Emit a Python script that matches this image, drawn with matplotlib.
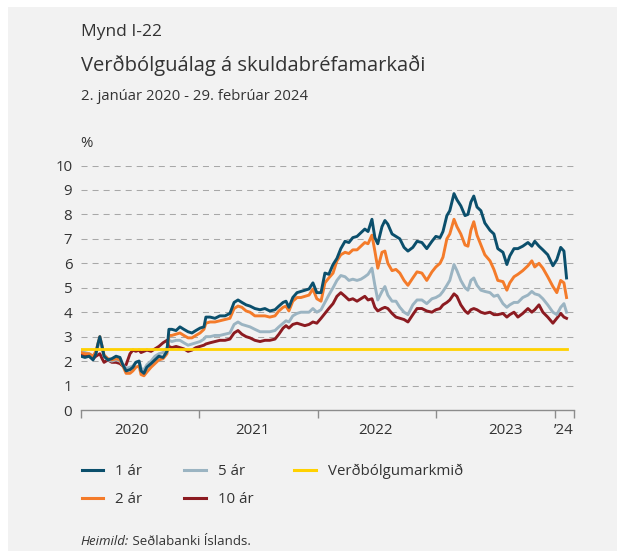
import pandas as pd
import matplotlib
matplotlib.use("Agg")
import matplotlib.pyplot as plt
import matplotlib.lines as mlines
from matplotlib.patches import Rectangle

plt.rcParams["font.family"] = ["Open Sans", "DejaVu Sans"]

# ── data (%, daily series thinned) ────────────────────────────────────────────
dates = [
    "2020-01-02", "2020-01-14", "2020-01-27", "2020-02-08", "2020-02-17", "2020-02-23",
    "2020-02-29", "2020-03-07", "2020-03-13", "2020-03-25", "2020-04-06", "2020-04-19",
    "2020-05-01", "2020-05-10", "2020-05-20", "2020-06-01", "2020-06-10", "2020-06-19",
    "2020-06-29", "2020-07-05", "2020-07-14", "2020-07-23", "2020-08-05", "2020-08-17",
    "2020-08-29", "2020-09-11", "2020-09-23", "2020-09-29", "2020-10-08", "2020-10-21",
    "2020-11-02", "2020-11-14", "2020-11-27", "2020-12-09", "2020-12-21", "2021-01-03",
    "2021-01-15", "2021-01-21", "2021-02-03", "2021-02-18", "2021-03-05", "2021-03-21",
    "2021-04-05", "2021-04-18", "2021-04-30", "2021-05-12", "2021-05-25", "2021-06-06",
    "2021-06-21", "2021-07-07", "2021-07-22", "2021-08-06", "2021-08-22", "2021-09-03",
    "2021-09-16", "2021-09-25", "2021-10-04", "2021-10-16", "2021-10-29", "2021-11-10",
    "2021-11-22", "2021-12-05", "2021-12-17", "2021-12-29", "2022-01-11", "2022-01-23",
    "2022-02-04", "2022-02-17", "2022-03-01", "2022-03-13", "2022-03-26", "2022-04-07",
    "2022-04-19", "2022-05-02", "2022-05-14", "2022-05-26", "2022-06-05", "2022-06-17",
    "2022-06-26", "2022-07-05", "2022-07-18", "2022-07-27", "2022-08-05", "2022-08-18",
    "2022-08-30", "2022-09-11", "2022-09-24", "2022-10-06", "2022-10-21", "2022-11-03",
    "2022-11-18", "2022-12-03", "2022-12-19", "2022-12-31", "2023-01-13", "2023-01-22",
    "2023-02-03", "2023-02-12", "2023-02-25", "2023-03-06", "2023-03-18", "2023-03-31",
    "2023-04-09", "2023-04-18", "2023-04-27", "2023-05-07", "2023-05-19", "2023-05-31",
    "2023-06-16", "2023-06-28", "2023-07-10", "2023-07-26", "2023-08-07", "2023-08-16",
    "2023-08-29", "2023-09-10", "2023-09-25", "2023-10-11", "2023-10-23", "2023-11-01",
    "2023-11-14", "2023-11-26", "2023-12-11", "2023-12-27", "2024-01-08", "2024-01-20",
    "2024-01-30", "2024-02-07",
]
ar_1 = [
    2.2, 2.15, 2.2, 2.05, 2.3, 2.7, 3.0, 2.6, 2.2, 2.05, 2.1, 2.2,
    2.15, 1.85, 1.6, 1.65, 1.75, 1.95, 2.0, 1.6, 1.5, 1.75, 1.9, 2.05,
    2.2, 2.15, 2.4, 3.3, 3.3, 3.25, 3.4, 3.3, 3.2, 3.15, 3.25, 3.35,
    3.4, 3.8, 3.8, 3.75, 3.85, 3.85, 3.95, 4.4, 4.5, 4.4, 4.3, 4.25,
    4.15, 4.1, 4.15, 4.05, 4.1, 4.25, 4.4, 4.45, 4.2, 4.6, 4.8, 4.85,
    4.9, 4.95, 5.2, 4.8, 4.8, 5.6, 5.55, 5.95, 6.2, 6.6, 6.9, 6.85,
    7.05, 7.1, 7.25, 7.4, 7.3, 7.8, 7.05, 6.8, 7.5, 7.75, 7.6, 7.2,
    7.1, 7.0, 6.65, 6.5, 6.65, 6.9, 6.85, 6.6, 6.9, 7.1, 7.05, 7.3,
    7.95, 8.15, 8.85, 8.6, 8.35, 7.95, 8.0, 8.5, 8.75, 8.3, 8.15, 7.65,
    7.35, 7.2, 6.6, 6.45, 5.95, 6.3, 6.6, 6.6, 6.7, 6.85, 6.7, 6.9,
    6.7, 6.55, 6.35, 5.9, 6.15, 6.65, 6.5, 5.4,
]
ar_2 = [
    2.35, 2.3, 2.3, 2.2, 2.4, 2.7, 3.0, 2.6, 2.25, 2.1, 2.05, 2.1,
    2.05, 1.8, 1.5, 1.5, 1.6, 1.75, 1.8, 1.45, 1.4, 1.55, 1.75, 1.9,
    2.05, 2.1, 2.3, 3.05, 3.05, 3.1, 3.15, 3.05, 2.95, 2.95, 3.05, 3.15,
    3.3, 3.55, 3.6, 3.6, 3.65, 3.7, 3.75, 4.15, 4.25, 4.2, 4.05, 4.0,
    3.85, 3.85, 3.85, 3.8, 3.85, 4.05, 4.2, 4.25, 4.05, 4.45, 4.6, 4.6,
    4.65, 4.7, 4.95, 4.55, 4.45, 5.2, 5.4, 5.6, 6.1, 6.35, 6.45, 6.4,
    6.55, 6.55, 6.7, 6.85, 6.8, 7.15, 6.5, 5.8, 6.45, 6.5, 6.0, 5.7,
    5.75, 5.6, 5.3, 5.1, 5.4, 5.65, 5.6, 5.3, 5.65, 5.85, 6.0, 6.25,
    7.0, 7.2, 7.8, 7.5, 7.2, 6.75, 6.7, 7.35, 7.7, 7.15, 6.75, 6.35,
    6.1, 5.75, 5.3, 5.25, 4.9, 5.2, 5.45, 5.55, 5.7, 5.9, 6.1, 5.85,
    6.0, 5.8, 5.45, 5.05, 4.8, 5.3, 5.2, 4.6,
]
ar_5 = [
    2.4, 2.35, 2.3, 2.2, 2.3, 2.6, 2.85, 2.5, 2.2, 2.05, 2.0, 2.05,
    2.0, 1.85, 1.7, 1.75, 1.8, 1.95, 2.0, 1.7, 1.65, 1.85, 2.0, 2.2,
    2.3, 2.35, 2.55, 2.85, 2.8, 2.85, 2.85, 2.75, 2.65, 2.7, 2.75, 2.8,
    2.9, 3.0, 3.0, 3.05, 3.05, 3.1, 3.15, 3.5, 3.6, 3.5, 3.45, 3.4,
    3.3, 3.2, 3.2, 3.2, 3.25, 3.4, 3.55, 3.65, 3.6, 3.85, 3.95, 4.0,
    4.0, 4.0, 4.15, 4.0, 4.1, 4.4, 4.7, 5.0, 5.3, 5.5, 5.45, 5.3,
    5.35, 5.3, 5.35, 5.45, 5.55, 5.8, 5.1, 4.5, 4.85, 5.05, 4.7, 4.45,
    4.45, 4.2, 4.0, 3.9, 4.3, 4.5, 4.5, 4.35, 4.55, 4.6, 4.7, 4.85,
    5.1, 5.3, 5.95, 5.7, 5.3, 5.0, 4.9, 5.3, 5.4, 5.1, 4.9, 4.85,
    4.8, 4.65, 4.7, 4.35, 4.2, 4.3, 4.4, 4.4, 4.6, 4.7, 4.85, 4.75,
    4.7, 4.55, 4.3, 4.0, 3.9, 4.2, 4.35, 4.0,
]
ar_10 = [
    2.3, 2.25, 2.2, 2.1, 2.2, 2.25, 2.3, 2.1, 1.95, 2.05, 1.95, 1.95,
    1.9, 1.8, 1.85, 2.3, 2.45, 2.4, 2.45, 2.35, 2.4, 2.45, 2.4, 2.5,
    2.6, 2.75, 2.85, 2.6, 2.55, 2.6, 2.55, 2.5, 2.4, 2.45, 2.55, 2.6,
    2.65, 2.7, 2.75, 2.8, 2.85, 2.85, 2.9, 3.15, 3.25, 3.1, 3.0, 2.95,
    2.85, 2.8, 2.85, 2.85, 2.9, 3.1, 3.35, 3.45, 3.35, 3.5, 3.55, 3.5,
    3.45, 3.5, 3.6, 3.55, 3.75, 3.95, 4.15, 4.35, 4.65, 4.8, 4.65, 4.5,
    4.55, 4.45, 4.55, 4.65, 4.5, 4.55, 4.2, 4.05, 4.15, 4.2, 4.15, 3.95,
    3.8, 3.75, 3.7, 3.6, 3.9, 4.15, 4.15, 4.05, 4.0, 4.1, 4.15, 4.3,
    4.4, 4.5, 4.75, 4.65, 4.3, 4.05, 3.95, 4.1, 4.15, 4.1, 4.0, 3.95,
    4.0, 3.9, 3.9, 3.95, 3.8, 3.9, 4.0, 3.8, 3.95, 4.15, 4.0, 4.1,
    4.3, 4.0, 3.8, 3.55, 3.75, 3.95, 3.8, 3.75,
]
target = 2.5

labels = ["1 ár", "2 ár", "5 ár", "10 ár", "Verðbólgumarkmið"]
colors = ["#0b4f6c", "#f47b2a", "#9bb4c2", "#8c1b21", "#ffd100"]

year_ticks = ["2020-01-01", "2021-01-01", "2022-01-01", "2023-01-01",
              "2024-01-01", "2024-03-01"]
year_label_pos = ["2020-06-07", "2021-06-12", "2022-06-27", "2023-08-04", "2024-01-30"]
year_labels = ["2020", "2021", "2022", "2023", "’24"]

x = pd.to_datetime(dates)
TXT = "#333333"

# ── figure ────────────────────────────────────────────────────────────────────
W, H = 617, 551
fig = plt.figure(figsize=(W / 100, H / 100), dpi=100, facecolor="white")
fig.add_artist(Rectangle((8 / W, 0), 1 - 8 / W, 1 - 7 / H, transform=fig.transFigure,
                         facecolor="#f2f2f2", edgecolor="none", zorder=-10))

ax = fig.add_axes([80.7 / W, 1 - 410 / H, (574 - 80.7) / W, (410 - 165.5) / H])
ax.set_facecolor("none")

for yv in range(1, 11):
    ax.axhline(yv, color="#a8a8a8", lw=0.75, ls=(0, (5.8, 4.8)), zorder=1)

series = [ar_1, ar_2, ar_5, ar_10]
for vals, col, z in zip(series, colors[:4], [6, 5, 4, 3]):
    ax.plot(x, vals, color=col, lw=2.1, zorder=z, solid_joinstyle="round")
ax.plot([x[0], x[-1]], [target, target], color=colors[4], lw=2.0, zorder=7)

ax.set_ylim(0, 10)
ax.set_xlim(pd.Timestamp("2020-01-01"), pd.Timestamp("2024-03-01"))
ax.set_yticks(range(0, 11))
ax.tick_params(axis="y", length=0, pad=6, labelsize=10.8, labelcolor=TXT)

ax.set_xticks(pd.to_datetime(year_ticks))
ax.set_xticklabels([])
ax.set_xticks(pd.to_datetime(year_label_pos), minor=True)
ax.set_xticklabels(year_labels, minor=True)
ax.tick_params(axis="x", which="major", direction="out", length=6, width=1, color="#8c8c8c")
ax.tick_params(axis="x", which="minor", length=0, pad=9, labelsize=10.8, labelcolor=TXT)

for s in ["left", "top", "right"]:
    ax.spines[s].set_visible(False)
ax.spines["bottom"].set_color("#8c8c8c")
ax.spines["bottom"].set_linewidth(1)

ax.text(0, 1.088, "%", transform=ax.transAxes, ha="left", va="center",
        fontsize=10.8, color=TXT)

# titles
fig.text(80.7 / W, 1 - 36 / H, "Mynd I-22", fontsize=12.5, color=TXT, va="baseline")
fig.text(80.7 / W, 1 - 71 / H, "Verðbólguálag á skuldabréfamarkaði", fontsize=14.5,
         color=TXT, va="baseline")
fig.text(80.7 / W, 1 - 100 / H, "2. janúar 2020 - 29. febrúar 2024", fontsize=10.7,
         color=TXT, va="baseline")

# legend
handles = [mlines.Line2D([], [], color=c, lw=2.2) for c in colors]
fig.legend(handles=handles, labels=labels, ncol=3, loc="upper left",
           bbox_to_anchor=(81.7 / W, 1 - 464 / H), frameon=False, fontsize=10.8,
           handlelength=1.45, handletextpad=0.8, columnspacing=2.75,
           labelspacing=0.85, borderpad=0, borderaxespad=0, labelcolor=TXT)

# source
src = fig.text(80.7 / W, 1 - 548 / H, "Heimild:", fontsize=9.5, style="italic",
               color=TXT, va="bottom")
ax.annotate(" Seðlabanki Íslands.", xy=(1, 0), xycoords=src, fontsize=9.5,
            color=TXT, va="bottom", ha="left", annotation_clip=False)

fig.savefig("out.png", dpi=100, facecolor=fig.get_facecolor())
